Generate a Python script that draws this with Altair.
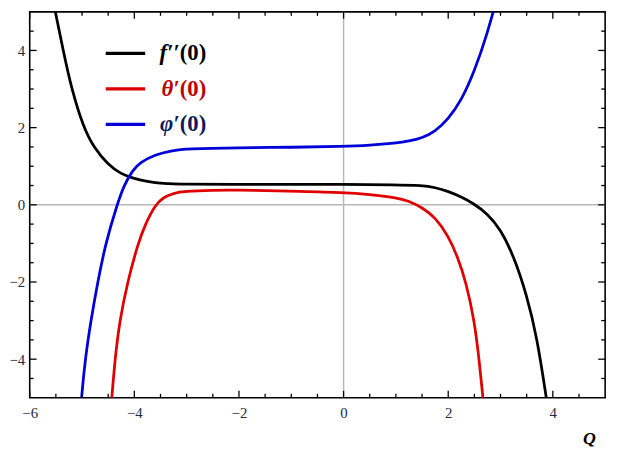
import altair as alt
import pandas as pd

# ---------------- data ----------------
X_DOMAIN = [-6, 5]
Y_DOMAIN = [-5, 5]
X_MAJOR = [-6, -4, -2, 0, 2, 4]
X_MINOR = [-5.5, -5, -4.5, -3.5, -3, -2.5, -1.5, -1, -0.5, 0.5, 1, 1.5, 2.5, 3, 3.5, 4.5]
Y_MAJOR = [-4, -2, 0, 2, 4]
Y_MINOR = [-4.5, -3.5, -3, -2.5, -1.5, -1, -0.5, 0.5, 1, 1.5, 2.5, 3, 3.5, 4.5]

SERIES = ["f''(0)", "theta'(0)", "phi'(0)"]

f_x = [-5.57, -5.51, -5.36, -5.2, -4.97, -4.78, -4.5, -4.25, -4.05, -3.75, -3.45, -3.1,
       -2.0, -1.0, 0.0, 1.0, 1.5, 1.75, 2.0, 2.26, 2.5, 2.75, 3.0, 3.25, 3.5, 3.7, 3.87, 3.93]
f_y = [5.4, 5.0, 4.0, 3.0, 2.0, 1.5, 1.03, 0.8, 0.7, 0.6, 0.55, 0.53,
       0.53, 0.53, 0.53, 0.52, 0.5, 0.45, 0.35, 0.2, 0.02, -0.23, -0.63, -1.32, -2.33, -3.45, -4.95, -5.5]

t_x = [-4.46, -4.43, -4.37, -4.28, -4.13, -3.93, -3.79, -3.6, -3.44, -3.25, -3.05, -2.5,
       -2.0, -1.5, -0.89, 0.0, 0.5, 1.0, 1.25, 1.5, 1.75, 2.0, 2.18, 2.34, 2.5, 2.59, 2.665, 2.69]
t_y = [-5.4, -5.0, -4.0, -3.0, -2.0, -1.0, -0.5, 0.0, 0.2, 0.3, 0.35, 0.38,
       0.38, 0.37, 0.35, 0.32, 0.27, 0.19, 0.1, -0.07, -0.32, -0.8, -1.35, -2.0, -3.0, -4.0, -5.0, -5.4]

p_x = [-5.03, -5.01, -4.94, -4.83, -4.7, -4.55, -4.33, -4.2, -4.03, -3.89, -3.6, -3.3,
       -3.0, -2.0, -1.0, 0.0, 0.5, 1.0, 1.25, 1.5, 1.75, 2.0, 2.25, 2.5, 2.75, 2.92]
p_y = [-5.4, -5.0, -4.0, -3.0, -2.0, -1.0, 0.0, 0.5, 0.9, 1.1, 1.3, 1.4,
       1.45, 1.48, 1.49, 1.51, 1.54, 1.6, 1.65, 1.73, 1.9, 2.22, 2.7, 3.45, 4.45, 5.3]

LINE_COLORS = ["#000000", "#e00000", "#0000d8"]
LEG_SYM = ["f\u2032\u2032", "\u03b8\u2032", "\u03c6\u2032"]
LEG_ARG = ["(0)", "(0)", "(0)"]
LEG_TEXT_COLORS = ["#000000", "#c00000", "#101a5a"]
AXIS_TITLE = "Q"

# ---------------- build ----------------
W, H = 583, 391

rows = []
for name, xs_, ys_ in zip(SERIES, [f_x, t_x, p_x], [f_y, t_y, p_y]):
    for a, b in zip(xs_, ys_):
        rows.append({"series": name, "x": a, "y": b})
df = pd.DataFrame(rows)

xs = alt.Scale(domain=X_DOMAIN, nice=False, zero=False)
ys = alt.Scale(domain=Y_DOMAIN, nice=False, zero=False)
xaxis = alt.Axis(values=X_MAJOR, ticks=False, domain=False, grid=False, title=None,
                 labelPadding=8, labelFont="Liberation Serif", labelFontSize=15,
                 labelColor="#1e2a44", format="d", labelFlush=False)
yaxis = alt.Axis(values=Y_MAJOR, ticks=False, domain=False, grid=False, title=None,
                 labelPadding=5, labelFont="Liberation Serif", labelFontSize=15,
                 labelColor="#1e2a44", format="d", labelFlush=False)


def X(f):
    return alt.X(f, type="quantitative", scale=xs, axis=xaxis)


def Y(f):
    return alt.Y(f, type="quantitative", scale=ys, axis=yaxis)


layers = []

# zero lines
layers.append(alt.Chart(pd.DataFrame({"v": [0]})).mark_rule(color="#b8b8b8", strokeWidth=1.5)
              .encode(x=X("v")))
layers.append(alt.Chart(pd.DataFrame({"v": [0]})).mark_rule(color="#b8b8b8", strokeWidth=1.5)
              .encode(y=Y("v")))

# curves
layers.append(
    alt.Chart(df).mark_line(clip=True, strokeWidth=2.8, interpolate="basis")
    .encode(x=X("x"), y=Y("y"),
            color=alt.Color("series:N", scale=alt.Scale(domain=SERIES, range=LINE_COLORS), legend=None),
            order=alt.Order("x:Q"))
)

# inward ticks on all four sides
for vals, ln in [(X_MAJOR, 7), (X_MINOR, 4)]:
    d = pd.DataFrame({"v": vals})
    layers.append(alt.Chart(d).mark_rule(color="black", strokeWidth=1.3)
                  .encode(x=X("v"), y=alt.value(H), y2=alt.value(H - ln)))
    layers.append(alt.Chart(d).mark_rule(color="black", strokeWidth=1.3)
                  .encode(x=X("v"), y=alt.value(0), y2=alt.value(ln)))
for vals, ln in [(Y_MAJOR, 7), (Y_MINOR, 4)]:
    d = pd.DataFrame({"v": vals})
    layers.append(alt.Chart(d).mark_rule(color="black", strokeWidth=1.3)
                  .encode(y=Y("v"), x=alt.value(0), x2=alt.value(ln)))
    layers.append(alt.Chart(d).mark_rule(color="black", strokeWidth=1.3)
                  .encode(y=Y("v"), x=alt.value(W), x2=alt.value(W - ln)))

# legend
row_y = [42, 78, 114]
for i in range(3):
    layers.append(alt.Chart(pd.DataFrame({"k": [i]})).mark_rule(color=LINE_COLORS[i], strokeWidth=3.2)
                  .encode(x=alt.value(77), x2=alt.value(117), y=alt.value(row_y[i])))
    layers.append(alt.Chart(pd.DataFrame({"k": [i]}))
                  .mark_text(text=LEG_SYM[i], font="Liberation Serif", fontSize=23, fontWeight="bold",
                             fontStyle="italic", color=LEG_TEXT_COLORS[i], align="right", baseline="middle")
                  .encode(x=alt.value(152), y=alt.value(row_y[i])))
    layers.append(alt.Chart(pd.DataFrame({"k": [i]}))
                  .mark_text(text=LEG_ARG[i], font="Liberation Serif", fontSize=23, fontWeight="bold",
                             color=LEG_TEXT_COLORS[i], align="left", baseline="middle")
                  .encode(x=alt.value(152), y=alt.value(row_y[i])))

# axis title
layers.append(alt.Chart(pd.DataFrame({"k": [0]}))
              .mark_text(text=AXIS_TITLE, font="Liberation Serif", fontSize=18, fontWeight="bold",
                         fontStyle="italic", color="black", align="center", baseline="alphabetic")
              .encode(x=alt.value(567), y=alt.value(438)))

chart = alt.layer(*layers).properties(
    width=W, height=H,
    autosize=alt.AutoSizeParams(type="none"),
    padding={"left": 22, "top": 1, "right": 11, "bottom": 50},
).configure_view(stroke="black", strokeWidth=1.6)

chart.save("out.html", embed_options={"renderer": "svg", "actions": False})
